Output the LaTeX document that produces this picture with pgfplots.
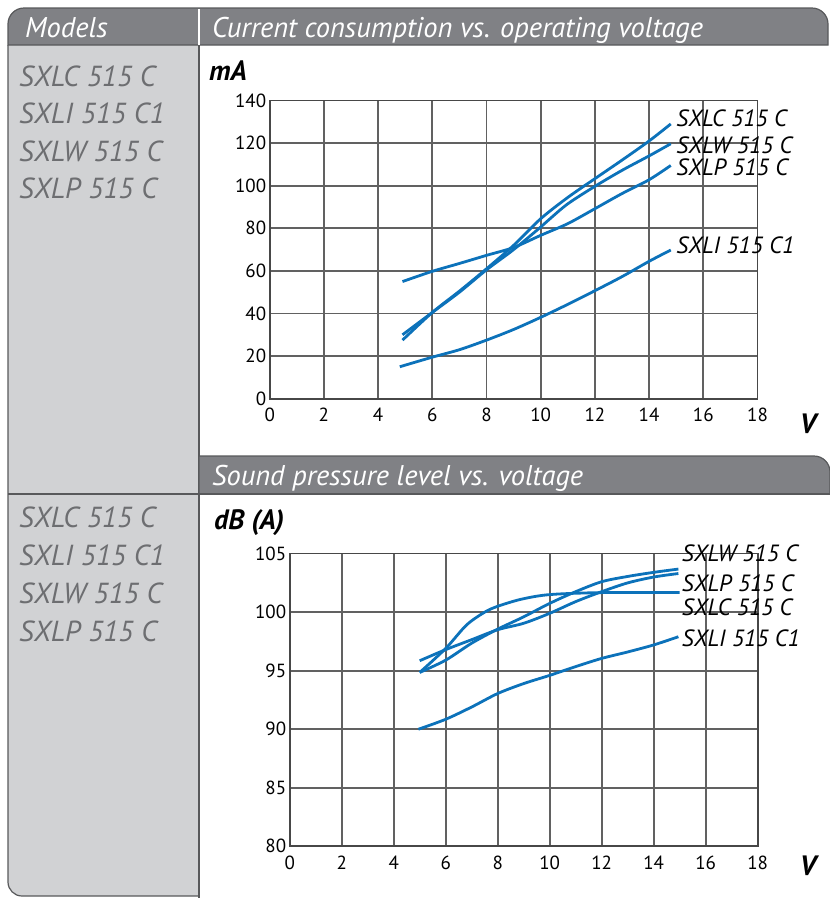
\documentclass[border=0pt]{standalone}
\usepackage{fontspec}
\setmainfont{PT Sans}
\usepackage{pgfplots}
\pgfplotsset{compat=1.18}

\definecolor{hdr}{HTML}{808185}
\definecolor{frame}{HTML}{58595B}
\definecolor{side}{HTML}{D1D2D4}
\definecolor{sidetext}{HTML}{6D6E71}
\definecolor{curve}{HTML}{0C72BA}

\newcommand{\lbl}{\fontsize{23.5}{23.5}\selectfont\itshape}
\newcommand{\model}{\fontsize{29}{29}\selectfont\itshape\color{sidetext}}
\newcommand{\head}{\fontsize{28.5}{28.5}\selectfont\itshape\color{white}}
\newcommand{\unit}{\fontsize{28}{28}\selectfont\bfseries\itshape}

\pgfplotsset{
  crv/.style={curve, line width=2.8pt, smooth, no marks},
  chart/.style={
    scale only axis, anchor=south west, clip=false,
    xmin=0, xmax=18, xtick={0,2,...,18},
    grid=major, grid style={black!62, line width=1.7pt},
    axis line style={black!72, line width=1.7pt},
    major tick length=0pt,
    tick label style={font=\fontsize{19}{19}\selectfont},
    xticklabel style={yshift=-6pt},
    /pgf/number format/assume math mode=true,
  }
}

\begin{document}
\begin{tikzpicture}[x=1pt,y=1pt]
\useasboundingbox (0,0) rectangle (830,-898);

% left column
\fill[side] (8,-45) -- (8,-882) arc[start angle=180,end angle=270,radius=14] -- (199,-896) -- (199,-45) -- cycle;
\draw[frame, line width=1.2pt] (8,-45) -- (8,-882) arc[start angle=180,end angle=270,radius=14] -- (199,-896);
\draw[frame, line width=1.2pt] (199,-45) -- (199,-898);

% header bars
\filldraw[fill=hdr, draw=frame, line width=1.2pt] (8,-45) -- (8,-24) arc[start angle=180,end angle=90,radius=16] -- (812,-8) arc[start angle=90,end angle=0,radius=16] -- (828,-45) -- cycle;
\draw[white, line width=1.6pt] (199,-9) -- (199,-45);
\filldraw[fill=hdr, draw=frame, line width=1.2pt] (199,-494) -- (199,-456) -- (814,-456) arc[start angle=90,end angle=0,radius=16] -- (830,-472) -- (830,-494) -- cycle;
\draw[frame, line width=1.2pt] (8,-494) -- (830,-494);

\node[anchor=base west, inner sep=0] at (25,-37) {\head Models};
\node[anchor=base west, inner sep=0] at (212,-37) {\head Current consumption vs. operating voltage};
\node[anchor=base west, inner sep=0] at (212,-485) {\head Sound pressure level vs. voltage};

% model lists
\foreach \t [count=\i] in {SXLC 515 C, SXLI 515 C1, SXLW 515 C, SXLP 515 C} {
  \node[anchor=west, inner sep=0] at (19,-38.5-37.5*\i) {\model \t};
  \node[anchor=west, inner sep=0] at (19,-479-38*\i) {\model \t};
}

% units
\node[anchor=west, inner sep=0] at (209,-71) {\unit mA};
\node[anchor=west, inner sep=0] at (214,-523) {\unit dB (A)};
\node[inner sep=0] at (808,-424) {\fontsize{28}{28}\selectfont\bfseries\itshape V};
\node[inner sep=0] at (808,-866) {\fontsize{28}{28}\selectfont\bfseries\itshape V};

% current consumption
\begin{axis}[chart, at={(269.7pt,-398.7pt)}, width=487.8pt, height=298.2pt,
  ymin=0, ymax=140, ytick={0,20,...,140}]
\addplot[crv] coordinates {(4.9,27.5) (6,40.5) (7,50.5) (8,61) (9,72) (10,84.5) (11,94.5) (12,103.3) (13,112) (14,121) (14.8,129)};
\addplot[crv] coordinates {(4.9,30) (6,40.5) (7,50) (8,60.5) (9,70) (10,80.6) (10.3,84) (11,91.5) (12,99.7) (13,107.2) (14,114) (14.8,119.7)};
\addplot[crv] coordinates {(4.9,55) (6,59.8) (7,63.5) (8,67.3) (9,71) (10,76.7) (11,82.2) (12,89.2) (13,96.3) (14,102.8) (14.8,109.5)};
\addplot[crv] coordinates {(4.8,15) (6,19.5) (7,23) (8,27.5) (9,32.5) (10,38.2) (11,44.3) (12,50.7) (13,57.3) (14,64.5) (14.8,69.8)};
\node[anchor=west, inner sep=0] at (axis cs:15.0,131.5) {\lbl SXLC 515 C};
\node[anchor=west, inner sep=0] at (axis cs:15.0,118.8) {\lbl SXLW 515 C};
\node[anchor=west, inner sep=0] at (axis cs:15.0,108.5) {\lbl SXLP 515 C};
\node[anchor=west, inner sep=0] at (axis cs:15.0,72) {\lbl SXLI 515 C1};
\end{axis}

% sound pressure level
\begin{axis}[chart, at={(289.7pt,-846.3pt)}, width=468pt, height=292.7pt,
  ymin=80, ymax=105, ytick={80,85,...,105}]
\addplot[crv] coordinates {(5,94.85) (6,96.9) (6.8,98.9) (7.5,100) (8,100.5) (8.9,101.1) (10,101.5) (12,101.67) (15,101.67)};
\addplot[crv] coordinates {(5,94.85) (6,95.9) (7,97.35) (8,98.55) (9,99.6) (10,100.75) (11,101.75) (12,102.6) (13,103.05) (14,103.4) (14.95,103.68)};
\addplot[crv] coordinates {(5,95.85) (6,96.8) (7,97.65) (8,98.5) (9,99.05) (10,99.9) (11,100.9) (12,101.75) (13,102.5) (14,103) (14.95,103.3)};
\addplot[crv] coordinates {(4.95,90) (6,90.85) (7,91.9) (8,93.05) (9,93.9) (10,94.6) (11,95.35) (12,96.05) (13,96.6) (14,97.2) (14.95,97.9)};
\node[anchor=west, inner sep=0] at (axis cs:15.08,105.07) {\lbl SXLW 515 C};
\node[anchor=west, inner sep=0] at (axis cs:15.08,102.5) {\lbl SXLP 515 C};
\node[anchor=west, inner sep=0] at (axis cs:15.08,100.45) {\lbl SXLC 515 C};
\node[anchor=west, inner sep=0] at (axis cs:15.08,97.8) {\lbl SXLI 515 C1};
\end{axis}
\end{tikzpicture}
\end{document}
